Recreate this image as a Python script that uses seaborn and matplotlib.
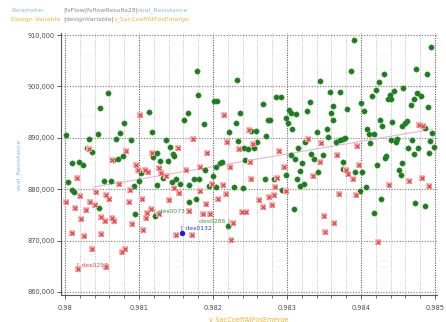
import numpy as np
import pandas as pd
import matplotlib
matplotlib.use("Agg")
import matplotlib.pyplot as plt
from matplotlib.ticker import MultipleLocator, FuncFormatter
import seaborn as sns

# ---- data -----------------------------------------------------------------
green_x = [
    0.98058, 0.98047, 0.98114, 0.98166, 0.98161, 0.98080, 0.98118, 0.98044, 0.98074, 0.98002,
    0.98033, 0.98069, 0.98089, 0.98136, 0.98030, 0.98142, 0.98037, 0.98125, 0.98146, 0.98147,
    0.98079, 0.98119, 0.98071, 0.98065, 0.98128, 0.98139, 0.98009, 0.98019, 0.98025,
    0.98178, 0.98233, 0.98180, 0.98202, 0.98205, 0.98268, 0.98285, 0.98292, 0.98331, 0.98237,
    0.98303, 0.98305, 0.98312, 0.98327, 0.98274, 0.98277, 0.98298, 0.98188, 0.98231, 0.98302,
    0.98307, 0.98221, 0.98252, 0.98258, 0.98271, 0.98234, 0.98260, 0.98256, 0.98242, 0.98247,
    0.98315, 0.98324, 0.98305, 0.98311, 0.98333, 0.98336, 0.98320, 0.98243, 0.98209, 0.98212,
    0.98390, 0.98494, 0.98387, 0.98474, 0.98489, 0.98431, 0.98344, 0.98424, 0.98358, 0.98372,
    0.98420, 0.98457, 0.98445, 0.98439, 0.98415, 0.98476, 0.98481, 0.98436, 0.98441, 0.98471,
    0.98400, 0.98467, 0.98490, 0.98362, 0.98381, 0.98404, 0.98360, 0.98362, 0.98426, 0.98442,
    0.98462, 0.98460, 0.98429, 0.98455, 0.98354, 0.98486, 0.98408, 0.98340, 0.98411, 0.98418,
    0.98496, 0.98356, 0.98375, 0.98378, 0.98372, 0.98366, 0.98412, 0.98441, 0.98449, 0.98447,
    0.98469, 0.98493, 0.98499, 0.98463, 0.98477, 0.98492, 0.98471, 0.98348, 0.98434, 0.98432,
    0.98376, 0.98422,
    0.98004, 0.98009, 0.98012, 0.98053, 0.98062, 0.98093, 0.98100, 0.98103, 0.98124, 0.98133,
    0.98144, 0.98150, 0.98156, 0.98167, 0.98046, 0.98094, 0.98168,
    0.98175, 0.98181, 0.98189, 0.98200, 0.98204, 0.98194, 0.98204, 0.98229, 0.98241, 0.98270,
    0.98282, 0.98298, 0.98318, 0.98314, 0.98323, 0.98317, 0.98293, 0.98177, 0.98309,
    0.98455, 0.98342, 0.98375, 0.98392, 0.98402, 0.98451, 0.98454, 0.98407, 0.98399, 0.98427,
    0.98417, 0.98473, 0.98487,
]
green_y = [
    898700, 895800, 895100, 894800, 893500, 892800, 891100, 890800, 890900, 890600,
    889700, 889800, 889500, 889500, 888100, 888300, 887200, 887100, 886800, 886500,
    886500, 886300, 885900, 885700, 885500, 885400, 885000, 885200, 884800,
    903100, 901200, 898300, 897200, 897100, 896600, 898000, 898000, 896900, 894800,
    895400, 894800, 894600, 895300, 893500, 893500, 893800, 892600, 892800, 892800,
    891800, 891200, 891400, 891400, 890400, 889400, 889200, 888100, 888000, 887800,
    888100, 889100, 886600, 885900, 886800, 885900, 885000, 885700, 885000, 885300,
    909000, 907600, 903100, 903300, 902500, 902500, 901100, 900900, 899000, 899000,
    899400, 899700, 899200, 898300, 898100, 898700, 898200, 897500, 897500, 897500,
    896800, 896300, 896000, 896200, 895600, 895300, 894800, 893500, 893500, 893100,
    893200, 892800, 892200, 892200, 891800, 892000, 891700, 891100, 890800, 890700,
    891000, 890100, 889800, 890000, 889600, 889200, 889000, 889600, 889700, 889200,
    889600, 889300, 888300, 888100, 888000, 887100, 886800, 886600, 886500, 886100,
    885200, 884800,
    881300, 879800, 879400, 881500, 881500, 880600, 881600, 883100, 880800, 882100,
    881300, 881900, 881000, 880800, 876400, 875200, 877600,
    881900, 881900, 883700, 882600, 884300, 880600, 880400, 880400, 880200, 882000,
    882000, 882800, 883500, 882000, 881000, 880600, 879800, 878000, 876100,
    885000, 883300, 883900, 883300, 883300, 883700, 882800, 880500, 879700, 878000,
    875400, 877400, 876700,
]

red_x = [
    0.98102, 0.98153, 0.98032, 0.98082, 0.98118, 0.98064, 0.98096,
    0.98215, 0.98248, 0.98173, 0.98219, 0.98254, 0.98235, 0.98289, 0.98329, 0.98192, 0.98250,
    0.98479, 0.98484, 0.98346, 0.98395, 0.98367, 0.98345, 0.98397,
    0.98098, 0.98108, 0.98112, 0.98127, 0.98130, 0.98137, 0.98164, 0.98016, 0.98073, 0.98147,
    0.98154, 0.98088,
    0.98042, 0.98020, 0.98056, 0.98060, 0.98001, 0.98034, 0.98040, 0.98086, 0.98104, 0.98141,
    0.98014, 0.98028, 0.98116, 0.98111, 0.98127, 0.98168, 0.98048, 0.98022, 0.98063, 0.98066,
    0.98054, 0.98110, 0.98091, 0.98010, 0.98026, 0.98049, 0.98106, 0.98150, 0.98036, 0.98077,
    0.98081, 0.98055,
    0.98183, 0.98223, 0.98296, 0.98252, 0.98287, 0.98335, 0.98198, 0.98213, 0.98284, 0.98299,
    0.98182, 0.98217, 0.98207, 0.98283, 0.98276, 0.98262, 0.98280, 0.98190, 0.98267, 0.98239,
    0.98244, 0.98186, 0.98196, 0.98227, 0.98172, 0.98225,
    0.98380, 0.98383, 0.98389, 0.98438, 0.98465, 0.98482, 0.98492, 0.98370, 0.98393, 0.98350,
    0.98363, 0.98352, 0.98423,
]
red_y = [
    894500, 888000, 887800, 887500, 887000, 885700, 884800,
    894400, 891600, 889800, 889100, 888800, 887800, 887500, 889800, 887000, 885300,
    892400, 892300, 888900, 888400, 886700, 885200, 884800,
    883800, 883700, 883300, 884100, 883100, 882600, 883700, 882200, 881100, 880200,
    879300, 879800,
    879400, 878700, 878900, 878100, 877600, 877600, 877000, 877500, 878100, 877900,
    876400, 875900, 876200, 875300, 875100, 875700, 874500, 874100, 874300, 873900,
    873800, 874300, 873200, 871400, 870900, 871300, 872100, 871000, 868300, 867800,
    868400, 864900,
    884300, 884400, 884300, 882000, 882100, 882600, 881000, 880900, 880400, 879700,
    879700, 879000, 878100, 878800, 878500, 877800, 877000, 877100, 876500, 875600,
    875500, 875200, 875200, 873500, 871100, 870200,
    883700, 883000, 882000, 880900, 881600, 882200, 880700, 879000, 878800, 874800,
    873400, 871700, 869700,
]

# named designs
design_names = ["des0257", "des0073", "des0132", "des0286"]
design_x = [0.98018, 0.98122, 0.98158, 0.98220]
design_y = [864400, 874800, 871500, 872800]
design_kind = ["red", "green", "blue", "green"]

# fitted trend line end points
trend_x = [0.98038, 0.98497]
trend_y = [880400, 891700]

x_ticks = [0.980, 0.981, 0.982, 0.983, 0.984, 0.985]
x_tick_labels = ["0.98", "0.981", "0.982", "0.983", "0.984", "0.985"]
y_ticks = [860000, 870000, 880000, 890000, 900000, 910000]

# ---- styling --------------------------------------------------------------
GREEN = "#1e7a1e"
RED = "#e23a3a"
RED_BG = "#f7b9b9"
BLUE = "#1a1ae0"
PARAM_BLUE = "#8db6e6"
DESIGN_GOLD = "#efb52d"
GREY_TXT = "#8a8a8a"
TICK_TXT = "#4a4a4a"

sns.set_theme(style="white")
plt.rcParams["font.family"] = ["DejaVu Sans"]

W, H = 446, 322
fig = plt.figure(figsize=(W / 100, H / 100), dpi=100)
ax = fig.add_axes([61 / W, 1 - 295 / H, (437 - 61) / W, (295 - 33) / H])

df_green = pd.DataFrame({"x": green_x, "y": green_y})
df_red = pd.DataFrame({"x": red_x, "y": red_y})
df_des = pd.DataFrame({"x": design_x, "y": design_y, "kind": design_kind, "name": design_names})
df_trend = pd.DataFrame({"x": trend_x, "y": trend_y})

sns.lineplot(data=df_trend, x="x", y="y", ax=ax, color="#dcb6dc", lw=0.8, zorder=2)

def draw_green(d):
    sns.scatterplot(data=d, x="x", y="y", ax=ax, color=GREEN, s=15,
                    linewidth=0.3, edgecolor="#3a9a3a", zorder=3, legend=False)

def draw_red(d):
    sns.scatterplot(data=d, x="x", y="y", ax=ax, marker="s", color=RED_BG, s=19,
                    linewidth=0, zorder=4, legend=False)
    sns.scatterplot(data=d, x="x", y="y", ax=ax, marker="x", color=RED, s=8,
                    linewidth=0.8, zorder=5, legend=False)

draw_green(df_green)
draw_red(df_red)
draw_green(df_des[df_des.kind == "green"])
draw_red(df_des[df_des.kind == "red"])
sns.scatterplot(data=df_des[df_des.kind == "blue"], x="x", y="y", ax=ax, color=BLUE,
                s=15, linewidth=0, zorder=5, legend=False)

label_colors = {"red": "#e04848", "green": "#3d9a3d", "blue": "#3a3ae0"}
for nm, xv, yv, kd in zip(design_names, design_x, design_y, design_kind):
    if nm == "des0286":
        ax.annotate(nm + " ]", xy=(xv, yv), xytext=(1.5, 3.5), textcoords="offset points",
                    ha="right", va="center", fontsize=4.4, color=label_colors[kd], zorder=6)
    else:
        ax.annotate("[ " + nm, xy=(xv, yv), xytext=(-1, 3.6), textcoords="offset points",
                    ha="left", va="center", fontsize=4.4, color=label_colors[kd], zorder=6)

# ---- axes -----------------------------------------------------------------
ax.set_xlim(0.979946, 0.985027)
ax.set_ylim(859400, 910400)
ax.set_xticks(x_ticks)
ax.set_xticklabels(x_tick_labels)
ax.xaxis.set_minor_locator(MultipleLocator(0.0002))
ax.set_yticks(y_ticks)
ax.yaxis.set_major_formatter(FuncFormatter(lambda v, p: f"{int(v):,}"))

ax.grid(False)
ax.grid(True, which="major", axis="y", color="#8a8a8a", lw=0.9, ls=(0, (1, 1.2)))
ax.grid(True, which="major", axis="x", color="#5c5c5c", lw=0.8, ls=(0, (1, 1.2)))
ax.grid(True, which="minor", axis="x", color="#c4c4c4", lw=0.7, ls=(0, (1, 1.2)))
ax.set_axisbelow(True)

for side in ["top", "right"]:
    ax.spines[side].set_visible(False)
for side in ["left", "bottom"]:
    ax.spines[side].set_color("#5a5a5a")
    ax.spines[side].set_linewidth(0.8)

ax.tick_params(axis="both", which="major", direction="out", length=3, width=0.7,
               color="#5a5a5a", labelsize=4.8, labelcolor=TICK_TXT, pad=1.5,
               bottom=True, left=True)
ax.tick_params(axis="x", which="major", pad=4)
ax.tick_params(axis="x", which="minor", direction="out", length=1.8, width=0.6,
               color="#5a5a5a", bottom=True)

ax.set_xlabel("v_SacCoeffAtFosEmerge", fontsize=4.8, color=DESIGN_GOLD, labelpad=4)
ax.set_ylabel("eval_Resistance", fontsize=4.6, color=PARAM_BLUE, labelpad=4.4)

# ---- header ---------------------------------------------------------------
renderer = fig.canvas.get_renderer()

def header_line(ypx, pieces, x0px):
    xp = x0px
    for txt, col in pieces:
        t = fig.text(xp / W, 1 - ypx / H, txt, fontsize=4.5, color=col,
                     ha="left", va="center")
        bb = t.get_window_extent(renderer=renderer)
        xp = bb.x1

fig.text(11 / W, 1 - 10.5 / H, "Parameter", fontsize=4.5, color=PARAM_BLUE, ha="left", va="center")
fig.text(11 / W, 1 - 19.3 / H, "Design Variable", fontsize=4.5, color=DESIGN_GOLD, ha="left", va="center")
header_line(10.5, [("|fsFlow|fsflowResults28|", GREY_TXT), ("eval_Resistance", PARAM_BLUE)], 63)
header_line(19.3, [("|designVariable|", GREY_TXT), ("v_SacCoeffAtFosEmerge", DESIGN_GOLD)], 63)

fig.savefig("out.png", dpi=100)
